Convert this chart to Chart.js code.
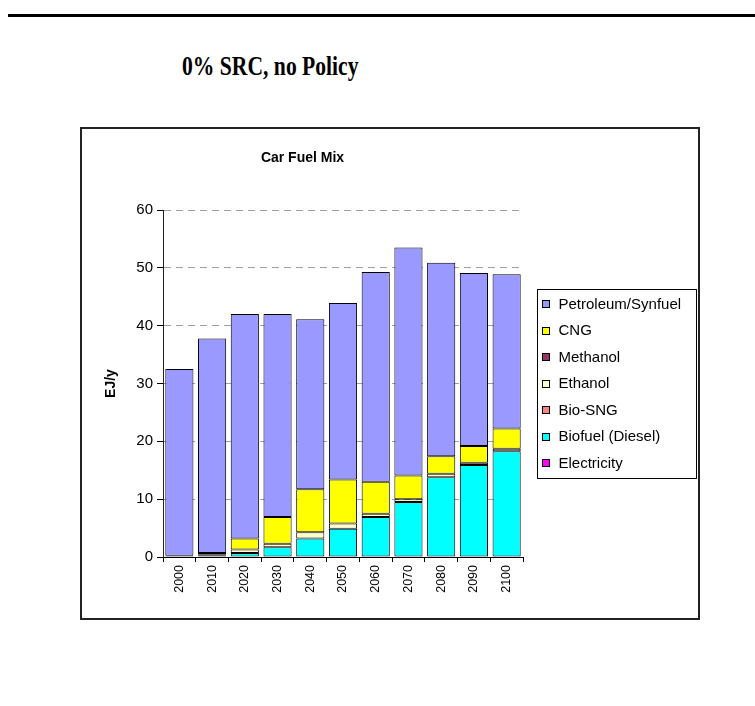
<!DOCTYPE html>
<html>
<head>
<meta charset="utf-8">
<title>Car Fuel Mix</title>
<script src="https://cdn.jsdelivr.net/npm/chart.js@4.4.1/dist/chart.umd.min.js"></script>
<style>
  html, body { margin: 0; padding: 0; background: #fff; }
  body { width: 755px; height: 706px; position: relative; overflow: hidden; }
  .rule { position: absolute; left: 8px; top: 14px; width: 747px; height: 3px; background: #000; }
  .page-title {
    position: absolute; left: 0; top: 51px; width: 540px; text-align: center;
    font: bold 27px "Liberation Serif", "Times New Roman", serif; color: #000;
  }
  .page-title span { display: inline-block; transform: scaleX(0.8); }
  .box {
    position: absolute; left: 80px; top: 127px; width: 620px; height: 493px;
    box-sizing: border-box; border: 2px solid #222; background: #fff;
  }
  .box canvas { position: absolute; left: 0; top: 0; }
</style>
</head>
<body>
<div class="rule"></div>
<div class="page-title"><span>0% SRC, no Policy</span></div>
<div class="box"><canvas id="fuelChart" width="616" height="489"></canvas></div>

<script>
'use strict';

// ─── Data (EJ/y) ─────────────────────────────────────────────
const years       = ['2000','2010','2020','2030','2040','2050','2060','2070','2080','2090','2100'];
const electricity = [0,    0,    0,    0,    0,    0,    0,    0,    0,    0,    0];
const biofuel     = [0.2,  0.2,  0.7,  1.7,  3.2,  4.9,  6.9,  9.5,  13.8, 15.9, 18.3];
const bioSNG      = [0,    0,    0,    0,    0,    0,    0,    0,    0,    0,    0];
const ethanol     = [0,    0.2,  0.6,  0.6,  1.1,  0.9,  0.6,  0.5,  0.6,  0.4,  0.4];
const methanol    = [0,    0,    0,    0,    0,    0,    0,    0,    0,    0,    0];
const cng         = [0,    0.3,  1.9,  4.6,  7.4,  7.6,  5.5,  4.1,  3.0,  2.9,  3.5];
const petroleum   = [32.3, 37.1, 38.8, 35.1, 29.4, 30.5, 36.3, 39.4, 33.5, 29.9, 26.7];
const yTicks      = [0, 10, 20, 30, 40, 50, 60];

const FONT = '"Liberation Sans", Arial, sans-serif';

// ─── Chart title + boxed legend (Excel style) ────────────────
const excelDecor = {
  id: 'excelDecor',
  afterDraw(chart) {
    const { ctx, chartArea } = chart;
    ctx.save();

    // title, centred over axis + plot
    ctx.fillStyle = '#000';
    ctx.font = 'bold 14px ' + FONT;
    ctx.textAlign = 'center';
    ctx.textBaseline = 'middle';
    ctx.fillText('Car Fuel Mix', chartArea.right / 2, 29);

    // legend, reversed so the top series is listed first
    const w = 159, h = 189;
    const x0 = Math.round(chartArea.right + 14) + 0.5;
    const y0 = Math.round((chartArea.top + chartArea.bottom) / 2 - h / 2) + 0.5;
    ctx.strokeStyle = '#000';
    ctx.lineWidth = 1;
    ctx.strokeRect(x0, y0, w, h);

    const sets = [...chart.data.datasets].reverse();
    ctx.font = '15px ' + FONT;
    ctx.textAlign = 'left';
    sets.forEach((ds, i) => {
      const cy = y0 + 14 + i * 26.5;
      const ky = Math.round(cy - 3.5) + 0.5;
      ctx.fillStyle = ds.backgroundColor;
      ctx.fillRect(x0 + 5, ky, 7, 7);
      ctx.strokeRect(x0 + 5, ky, 7, 7);
      ctx.fillStyle = '#000';
      ctx.fillText(ds.label, x0 + 21, cy + 1);
    });
    ctx.restore();
  }
};

function series(label, data, color) {
  return {
    label, data,
    backgroundColor: color,
    borderColor: '#000',
    borderWidth: 1,
    borderSkipped: false,
    barPercentage: 0.86,
    categoryPercentage: 1.0,
  };
}

new Chart(document.getElementById('fuelChart'), {
  type: 'bar',
  data: {
    labels: years,
    datasets: [
      series('Electricity',       electricity, '#FF00FF'),
      series('Biofuel (Diesel)',  biofuel,     '#00FFFF'),
      series('Bio-SNG',           bioSNG,      '#FF8080'),
      series('Ethanol',           ethanol,     '#FFFFCC'),
      series('Methanol',          methanol,    '#993366'),
      series('CNG',               cng,         '#FFFF00'),
      series('Petroleum/Synfuel', petroleum,   '#9999FF'),
    ]
  },
  options: {
    responsive: false,
    animation: false,
    layout: { padding: { top: 81, right: 175, bottom: 0, left: 0 } },
    plugins: {
      legend: { display: false },
      title: { display: false },
      tooltip: { enabled: false },
    },
    scales: {
      x: {
        stacked: true,
        afterFit: s => { s.height = 61; },
        grid: { offset: true, drawOnChartArea: false, drawTicks: true, tickLength: 5, tickColor: '#000' },
        border: { color: '#000', width: 1 },
        ticks: { color: '#000', font: { family: FONT, size: 12.5 }, minRotation: 90, maxRotation: 90, padding: 3, autoSkip: false },
      },
      y: {
        stacked: true,
        min: 0, max: 60,
        afterFit: s => { s.width = 81; },
        afterBuildTicks: s => { s.ticks = yTicks.map(v => ({ value: v })); },
        grid: { color: '#a0a0a0', lineWidth: 1, tickLength: 6, tickColor: '#000', tickBorderDash: [] },
        border: { color: '#222', width: 1, dash: [7, 5] },
        ticks: { color: '#000', font: { family: FONT, size: 15 }, padding: 4 },
        title: { display: true, text: 'EJ/y', color: '#000', font: { family: FONT, size: 14, weight: 'bold' }, padding: { top: 21, bottom: 0 } },
      }
    }
  },
  plugins: [excelDecor],
});
</script>
</body>
</html>
